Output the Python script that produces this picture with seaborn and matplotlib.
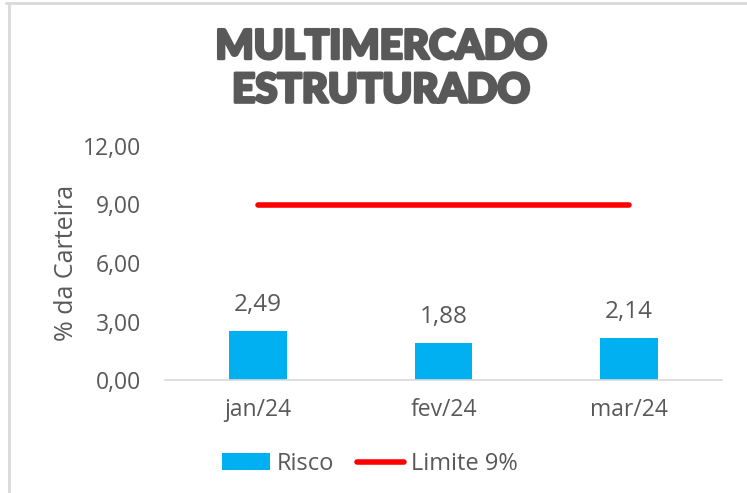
import numpy as np
import pandas as pd
import matplotlib
matplotlib.use("Agg")
import matplotlib.pyplot as plt
import matplotlib.patheffects as pe
import seaborn as sns
from matplotlib.lines import Line2D
from matplotlib.patches import Patch

meses = ["jan/24", "fev/24", "mar/24"]
risco = [2.49, 1.88, 2.14]
limite = [9.0, 9.0, 9.0]
yticks = [0, 3, 6, 9, 12]
titulo = "MULTIMERCADO\nESTRUTURADO"

sns.set_theme(style="white")
plt.rcParams['font.family'] = ['Open Sans', 'DejaVu Sans']

TXT = "#595959"
BAR = "#00B0F0"
RED = "#FF0000"

fig = plt.figure(figsize=(7.47, 4.93), dpi=100)
ax = fig.add_axes([165/747, 1-380/493, (722-165)/747, (380-146)/493])

df = pd.DataFrame({"mes": meses, "risco": risco})
sns.barplot(data=df, x="mes", y="risco", color=BAR, width=0.31, ax=ax,
            saturation=1, edgecolor="none")
ax.plot(np.arange(len(meses)), limite, color=RED, lw=4, solid_capstyle="round")

for i, v in enumerate(risco):
    ax.annotate(f"{v:.2f}".replace(".", ","), (i, v), xytext=(0, 10.5),
                textcoords="offset points", ha="center", va="bottom",
                fontsize=17.5, color=TXT)

ax.set_xlim(-0.5, 2.5)
ax.set_ylim(0, 12)
ax.set_yticks(yticks)
ax.set_yticklabels([f"{t:.2f}".replace(".", ",") for t in yticks], fontsize=16.5, color=TXT)
ax.set_xticks(range(len(meses)))
ax.set_xticklabels(meses, fontsize=16.5, color=TXT)
ax.tick_params(axis="y", length=0, pad=17)
ax.tick_params(axis="x", length=0, pad=13)
ax.set_xlabel("")
ax.set_ylabel("% da Carteira", fontsize=18, color=TXT, labelpad=3)
for s in ["top", "right", "left"]:
    ax.spines[s].set_visible(False)
ax.spines["bottom"].set_color("#D9D9D9")
ax.spines["bottom"].set_linewidth(1.2)
ax.grid(False)

fig.text(381/747, 1-69/493, titulo, ha="center", va="center", fontsize=29,
         fontweight="black", family=["Lato", "DejaVu Sans"], color=TXT, linespacing=1.22,
         path_effects=[pe.Stroke(linewidth=2.2, foreground=TXT), pe.Normal()])

handles = [Patch(facecolor=BAR, edgecolor="none", label="Risco"),
           Line2D([0], [0], color=RED, lw=4, solid_capstyle="round", label="Limite 9%")]
leg = fig.legend(handles=handles, loc="center", bbox_to_anchor=(370/747, 1-464/493),
                 ncol=2, frameon=False, fontsize=17, handlelength=2.0, handletextpad=0.3,
                 columnspacing=0.95, labelcolor=TXT)

fig.add_artist(Line2D([6/747, 1], [1-3/493, 1-3/493], color="#D9D9D9", lw=2, transform=fig.transFigure))
fig.add_artist(Line2D([9/747, 9/747], [0, 1-3/493], color="#D9D9D9", lw=2, transform=fig.transFigure))

fig.savefig("out.png", dpi=100, facecolor="white")
